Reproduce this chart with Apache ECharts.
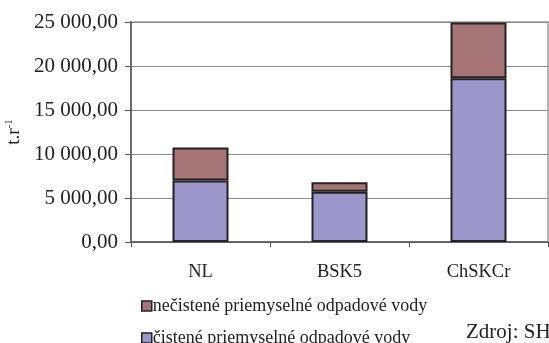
<!DOCTYPE html>
<html><head><meta charset="utf-8">
<script src="https://cdn.jsdelivr.net/npm/echarts@6/dist/echarts.min.js"></script>
<style>html,body{margin:0;padding:0;background:#fff}#c{width:549px;height:343px}</style>
</head><body><div id="c"></div>
<script>
const categories = ['NL', 'BSK5', 'ChSKCr'];
const cistene = [7000, 5700, 18600];
const necistene = [3750, 1100, 6350];
const seriesNames = ['čistené priemyselné odpadové vody', 'nečistené priemyselné odpadové vody'];
const yTicks = [0, 5000, 10000, 15000, 20000, 25000];

const fmt = v => {
  const s = Math.round(v).toString().replace(/\B(?=(\d{3})+(?!\d))/g, ' ');
  return s + ',00';
};
const FONT = 'Liberation Serif';
const legendBase = {
  orient: 'vertical', left: 136, itemWidth: 10, itemHeight: 10, icon: 'rect',
  textStyle: {fontFamily: FONT, fontSize: 18, color: '#222', padding: [0,0,0,-4]},
  itemStyle: {borderColor: '#222', borderWidth: 1.5}
};
const chart = echarts.init(document.getElementById('c'), null, {renderer: 'canvas'});
chart.setOption({
  animation: false,
  textStyle: {fontFamily: FONT, color: '#222'},
  grid: {left: 131, right: 1, top: 22, bottom: 101, containLabel: false, outerBoundsMode: 'none',
         show: true, borderColor: '#9a9a9a', borderWidth: 1.5, backgroundColor: 'transparent'},
  xAxis: {
    type: 'category', data: categories,
    axisLine: {lineStyle: {color: '#555', width: 1.5}},
    axisTick: {show: true, length: 5, lineStyle: {color: '#555'}},
    axisLabel: {fontFamily: FONT, fontSize: 18.5, color: '#222', margin: 21}
  },
  yAxis: {
    type: 'value', min: yTicks[0], max: yTicks[yTicks.length - 1], interval: 5000,
    name: '{a|t.r}{s|-1}', nameLocation: 'middle', nameGap: 102, nameRotate: 90,
    nameTextStyle: {rich: {a: {fontFamily: FONT, fontSize: 19, color: '#222'}, s: {fontFamily: FONT, fontSize: 11, color: '#222', verticalAlign: 'top', padding: [0,0,8,0]}}},
    axisLine: {show: true, lineStyle: {color: '#555', width: 1.5}},
    axisTick: {show: true, length: 6, lineStyle: {color: '#555'}},
    splitLine: {lineStyle: {color: '#8a8a8a', width: 1}},
    axisLabel: {fontFamily: FONT, fontSize: 21, color: '#222', margin: 13, formatter: fmt}
  },
  legend: [
    Object.assign({}, legendBase, {top: 292, data: [seriesNames[1]]}),
    Object.assign({}, legendBase, {top: 324, data: [seriesNames[0]]})
  ],
  graphic: [{type: 'text', left: 466, top: 322, style: {text: 'Zdroj: SHMÚ', font: '21px "Liberation Serif"', fill: '#222'}}],
  series: [
    {name: seriesNames[0], type: 'bar', stack: 's', data: cistene, barWidth: 56,
     itemStyle: {color: '#9c97cb', borderColor: '#222', borderWidth: 2}},
    {name: seriesNames[1], type: 'bar', stack: 's', data: necistene, barWidth: 56,
     itemStyle: {color: '#a57474', borderColor: '#222', borderWidth: 2}}
  ]
});
</script></body></html>
